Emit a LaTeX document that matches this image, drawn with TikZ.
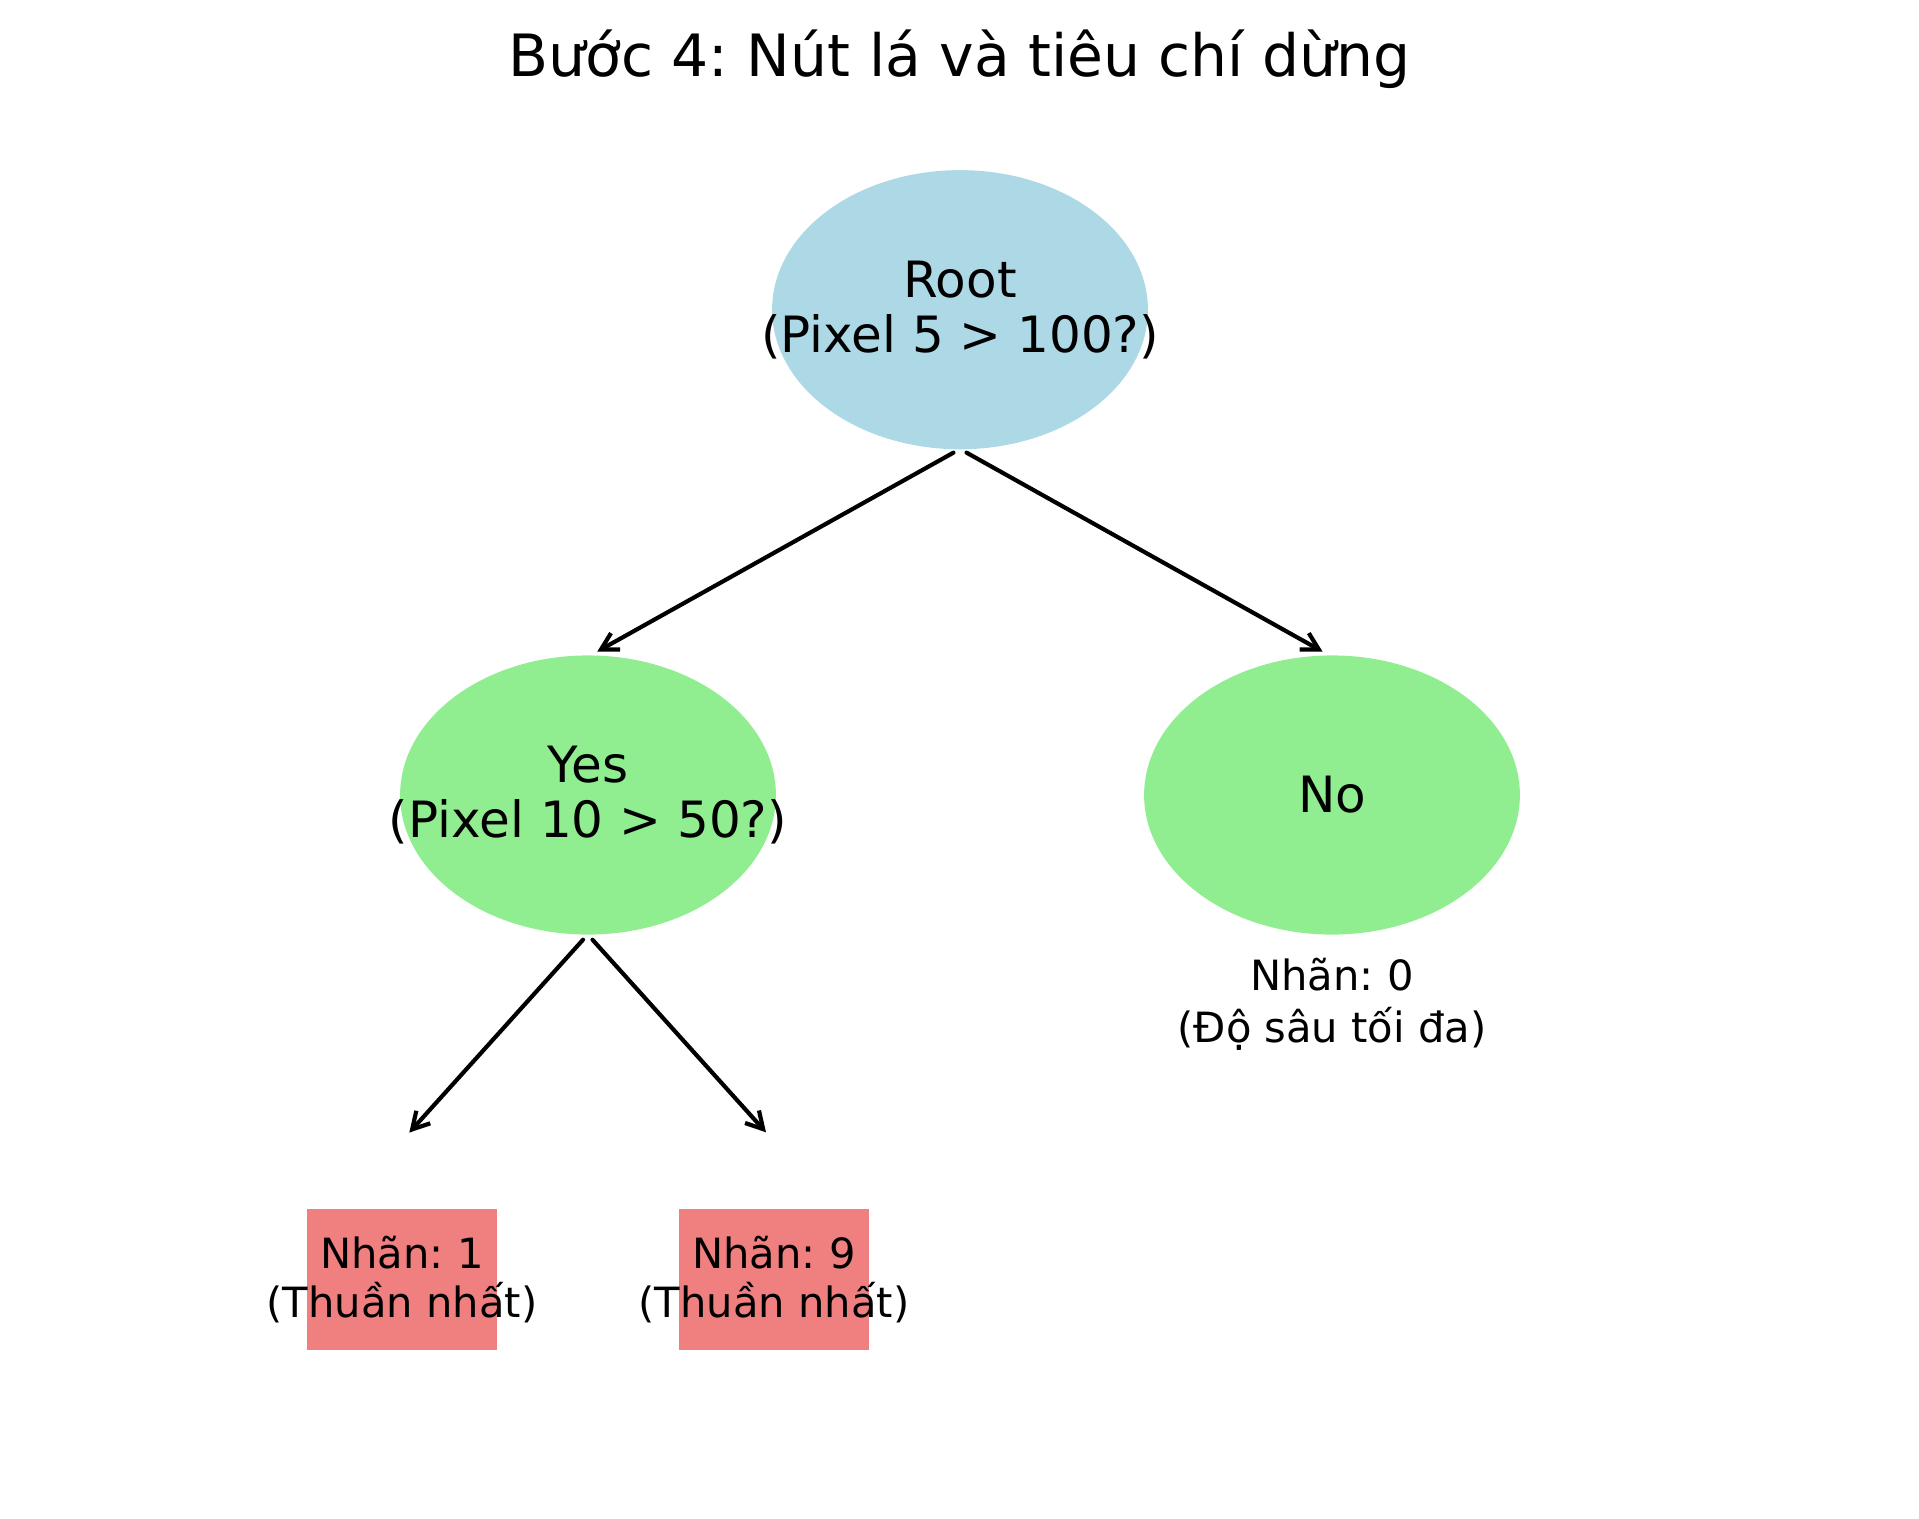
\documentclass[tikz,border=0pt]{standalone}
\usepackage{fontspec}
\setmainfont{DejaVu Sans}
\usetikzlibrary{shapes.geometric,arrows.meta,calc}
\definecolor{rootblue}{HTML}{ADD8E6}
\definecolor{splitgreen}{HTML}{90EE90}
\definecolor{leafred}{HTML}{F08080}
\frenchspacing

\begin{document}
\begin{tikzpicture}[
    x=0.24pt, y=-0.24pt,
    decision/.style={ellipse, inner sep=0pt, minimum width=90.2pt, minimum height=67pt},
    leafbox/.style={rectangle, inner sep=0pt, fill=leafred, minimum width=45.6pt, minimum height=33.8pt},
    bigtext/.style={align=center, font=\fontsize{12}{13.2}\selectfont},
    smalltext/.style={align=center, font=\fontsize{10}{11.6}\selectfont},
    branch/.style={-{Straight Barb[length=4pt,width=4.5pt]}, line width=1pt, line cap=round},
  ]
  \useasboundingbox (0,0) rectangle (1919,1518);

  \node[anchor=base, font=\fontsize{14}{16.8}\selectfont] (title) at (959.5,76.7)
    {Bước 4: Nút lá và tiêu chí dừng};

  % tree levels
  \node[decision, fill=rootblue] (root) at (960,309.7) {};
  \node[bigtext] (roottext) at (root) {Root\\(Pixel 5 > 100?)};

  \node[decision, fill=splitgreen] (yes) at (588,795) {};
  \node[bigtext] (yestext) at (yes) {Yes\\(Pixel 10 > 50?)};

  \node[decision, fill=splitgreen] (no) at (1332,795) {};
  \node[bigtext] (notext) at (no) {No};
  \node[smalltext, font=\fontsize{10}{12.4}\selectfont] (nolabel) at (1332,1004)
    {Nhãn: 0\\(Độ sâu tối đa)};

  \node[leafbox] (leafa) at (402,1279.5) {};
  \node[smalltext] (leafatext) at (leafa) {Nhãn: 1\\(Thuần nhất)};
  \node[leafbox] (leafb) at (774,1279.5) {};
  \node[smalltext] (leafbtext) at (leafb) {Nhãn: 9\\(Thuần nhất)};

  % branches
  \draw[branch] ($(root.south)+(-6.5,2.5)$) -- ($(yes.north)+(9.3,-3.1)$);
  \draw[branch] ($(root.south)+(6.5,2.5)$) -- ($(no.north)+(-9.5,-3.1)$);
  \draw[branch] ($(yes.south)+(-5,4.3)$) -- ($(leafa.north)+(7.3,-75.7)$);
  \draw[branch] ($(yes.south)+(4.5,4.3)$) -- ($(leafb.north)+(-8,-76)$);
\end{tikzpicture}
\end{document}
